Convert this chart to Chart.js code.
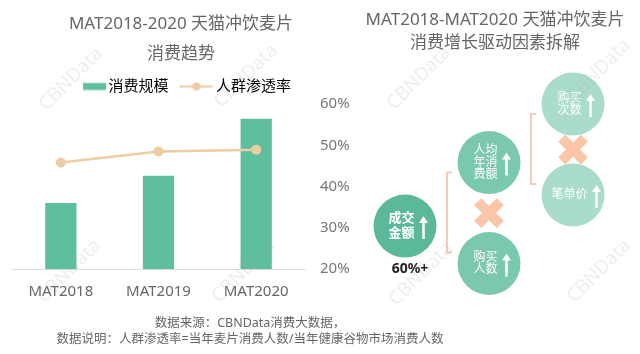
<!DOCTYPE html>
<html lang="zh-CN">
<head>
<meta charset="utf-8">
<title>天猫冲饮麦片消费趋势</title>
<script src="https://cdn.jsdelivr.net/npm/chart.js@4.4.1/dist/chart.umd.min.js"></script>
<style>
  html, body { margin: 0; padding: 0; background: #fff; }
  #wrap { position: relative; width: 640px; height: 354px; overflow: hidden; }
  #trendChart { position: absolute; left: 0; top: 0; }
  #driverChart { position: absolute; left: 350px; top: 0; }
  .note {
    position: absolute; left: 0; width: 500px; text-align: center;
    font: 12.5px 'Noto Sans', 'Noto Sans CJK SC', sans-serif;
    color: #666; line-height: 16px; white-space: nowrap;
  }
  .mark {
    position: absolute; width: 100px; margin-left: -50px; margin-top: -12px;
    text-align: center; font: 19px 'Noto Sans', sans-serif; line-height: 24px;
    color: rgba(170, 170, 170, 0.2); transform: rotate(-45deg); pointer-events: none;
  }
</style>
</head>
<body>
<div id="wrap">
  <canvas id="trendChart" width="360" height="315"></canvas>
  <canvas id="driverChart" width="290" height="310"></canvas>
  <div class="note" style="top:315px">数据来源：CBNData消费大数据，</div>
  <div class="note" style="top:331px">数据说明：人群渗透率=当年麦片消费人数/当年健康谷物市场消费人数</div>
</div>
<script>
// 数据：消费趋势
const years = ["MAT2018", "MAT2019", "MAT2020"];
const salesScale = [40, 56.5, 91]; // 消费规模（相对值，图中未标注单位）
const penetration = [45.8, 48.5, 48.9]; // 人群渗透率 %
const rateTicks = [20, 30, 40, 50, 60];

// 数据：增长驱动因素拆解
const factorNames = [["成交", "金额"], ["人均", "年消", "费额"], ["购买", "人数"], ["购买", "次数"], ["笔单价"]];
const factorSplits = [[0, 1, 2], [1, 3, 4]]; // 父因素 = 子因素 × 子因素
const factorGrowth = ["60%+", "", "", "", ""];

const FONT = "'Noto Sans', 'Noto Sans CJK SC', sans-serif";
const GREEN = "#5dbf9c";
const TAN = "#efcda3";

// 水印
const wrap = document.getElementById("wrap");
[[70, 78], [245, 75], [418, 77], [598, 70], [68, 270], [243, 270], [420, 273], [598, 270]].forEach(([x, y]) => {
  const el = document.createElement("div");
  el.className = "mark";
  el.textContent = "CBNData";
  el.style.left = x + "px";
  el.style.top = y + "px";
  wrap.appendChild(el);
});

// 图例图标
function makeIcon(draw) {
  const c = document.createElement("canvas");
  c.width = 40;
  c.height = 10;
  draw(c.getContext("2d"));
  return c;
}
const barIcon = makeIcon((g) => {
  g.fillStyle = GREEN;
  g.fillRect(17, 1.5, 23, 7);
});
const lineIcon = makeIcon((g) => {
  g.strokeStyle = TAN;
  g.lineWidth = 2;
  g.beginPath();
  g.moveTo(6, 5);
  g.lineTo(40, 5);
  g.stroke();
  g.fillStyle = TAN;
  g.beginPath();
  g.arc(23, 5, 4, 0, Math.PI * 2);
  g.fill();
});

// 左图：柱状 + 折线
new Chart(document.getElementById("trendChart"), {
  type: "bar",
  data: {
    labels: years,
    datasets: [
      {
        type: "bar",
        label: "消费规模",
        data: salesScale,
        backgroundColor: GREEN,
        yAxisID: "y",
        order: 2,
        barPercentage: 0.32,
        categoryPercentage: 1,
      },
      {
        type: "line",
        label: "人群渗透率",
        data: penetration,
        borderColor: TAN,
        borderWidth: 2.5,
        pointRadius: 5,
        pointBackgroundColor: TAN,
        pointBorderWidth: 0,
        yAxisID: "y2",
        order: 1,
      },
    ],
  },
  options: {
    responsive: false,
    animation: false,
    layout: { padding: { left: 12, right: 10, top: 0, bottom: 0 }, autoPadding: false },
    plugins: {
      title: {
        display: true,
        text: ["MAT2018-2020 天猫冲饮麦片", "消费趋势"],
        color: "#666",
        font: { family: FONT, size: 17, weight: "normal", lineHeight: 30 / 17 },
        padding: { top: 9, bottom: 0 },
      },
      legend: {
        position: "top",
        labels: {
          usePointStyle: true,
          pointStyleWidth: 30,
          boxHeight: 8,
          padding: 10,
          color: "#666",
          font: { family: FONT, size: 15 },
          generateLabels: () => [
            { text: "消费规模", pointStyle: barIcon, fillStyle: GREEN, strokeStyle: GREEN, lineWidth: 0, datasetIndex: 0, hidden: false },
            { text: "人群渗透率", pointStyle: lineIcon, fillStyle: TAN, strokeStyle: TAN, lineWidth: 0, datasetIndex: 1, hidden: false },
          ],
        },
      },
      tooltip: { enabled: false },
    },
    scales: {
      x: {
        grid: { display: false, drawTicks: false },
        border: { display: true, color: "#dcdcdc", width: 1 },
        ticks: { color: "#666", font: { family: FONT, size: 15 }, padding: 14 },
      },
      y: { display: false, min: 0, max: 100 },
      y2: {
        position: "right",
        min: rateTicks[0],
        max: rateTicks[rateTicks.length - 1],
        grid: { display: false, drawTicks: false },
        border: { display: false },
        afterBuildTicks: (axis) => {
          axis.ticks = rateTicks.map((v) => ({ value: v }));
        },
        afterFit: (axis) => {
          axis.width = 45; // 刻度文字宽 30 + 间距 15
        },
        ticks: {
          color: "#777",
          padding: 15,
          font: { family: FONT, size: 15 },
          callback: (v) => v + "%",
        },
      },
    },
  },
});

// 右图：因素拆解（树状布局，列 = 层级）
const COL_OFFSET = 0.655;
const RISE = 1.3; // 子因素中点相对父因素上移
const SPREAD = [5.05, 4.55]; // 每层两个子因素的上下间距
const factorX = [0];
const factorY = [0];
const factorDepth = [0];
factorSplits.forEach(([p, a, b]) => {
  const d = factorDepth[p] + 1;
  const mid = factorY[p] + RISE;
  factorDepth[a] = factorDepth[b] = d;
  factorX[a] = factorX[b] = d;
  factorY[a] = mid + SPREAD[d - 1];
  factorY[b] = mid - SPREAD[d - 1];
});
const nodeColors = ["#5cb997", "#7bc9ad", "#a9dcca"];

const nodePoints = factorNames.map((_, i) => ({ x: factorX[i], y: factorY[i] }));
const crossPoints = factorSplits.map(([p, a, b]) => ({ x: factorX[a], y: (factorY[a] + factorY[b]) / 2 }));

// 画括号、文字、箭头
const factorLabels = {
  id: "factorLabels",
  beforeDatasetsDraw(chart) {
    const { ctx, scales } = chart;
    ctx.save();
    ctx.strokeStyle = "#f5cdb5";
    ctx.lineWidth = 2;
    factorSplits.forEach(([p, a, b]) => {
      const x = (scales.x.getPixelForValue(factorX[p]) + scales.x.getPixelForValue(factorX[a])) / 2;
      const y1 = scales.y.getPixelForValue(factorY[a]) + 10;
      const y2 = scales.y.getPixelForValue(factorY[b]) - 11;
      ctx.beginPath();
      ctx.moveTo(x + 5, y1);
      ctx.lineTo(x, y1);
      ctx.lineTo(x, y2);
      ctx.lineTo(x + 5, y2);
      ctx.stroke();
    });
    ctx.restore();
  },
  afterDatasetsDraw(chart) {
    const { ctx, scales } = chart;
    ctx.save();
    factorNames.forEach((lines, i) => {
      const px = scales.x.getPixelForValue(factorX[i]);
      const py = scales.y.getPixelForValue(factorY[i]);
      const root = factorDepth[i] === 0;
      const size = root ? 13 : 12;
      const lh = root ? 15 : 12;
      ctx.font = (root ? "bold " : "") + size + "px " + FONT;
      ctx.fillStyle = "#fff";
      ctx.textAlign = "center";
      ctx.textBaseline = "middle";
      const tw = Math.max(...lines.map((t) => ctx.measureText(t).width));
      const gw = tw + 5 + 8;
      const left = px + 3 - gw / 2;
      const tx = left + tw / 2;
      const top = py - ((lines.length - 1) * lh) / 2;
      lines.forEach((t, k) => ctx.fillText(t, tx, top + k * lh));
      // 向上箭头
      const ax = left + tw + 9;
      ctx.strokeStyle = "#fff";
      ctx.lineWidth = 2.5;
      ctx.beginPath();
      ctx.moveTo(ax, py - 4);
      ctx.lineTo(ax, py + 13);
      ctx.stroke();
      ctx.beginPath();
      ctx.moveTo(ax, py - 10);
      ctx.lineTo(ax + 4.5, py - 3);
      ctx.lineTo(ax - 4.5, py - 3);
      ctx.closePath();
      ctx.fill();
      if (factorGrowth[i]) {
        ctx.fillStyle = "#222";
        ctx.font = "bold 14px " + FONT;
        ctx.fillText(factorGrowth[i], px + 5, py + 43);
      }
    });
    ctx.restore();
  },
};

new Chart(document.getElementById("driverChart"), {
  type: "scatter",
  data: {
    datasets: [
      {
        data: crossPoints,
        pointStyle: "crossRot",
        pointRadius: 16,
        pointBorderWidth: 10,
        pointBorderColor: "#fbc5a8",
        pointBackgroundColor: "#fbc5a8",
      },
      {
        data: nodePoints,
        pointRadius: 31.5,
        pointBorderWidth: 0,
        pointBackgroundColor: factorDepth.map((d) => nodeColors[d]),
      },
    ],
  },
  options: {
    responsive: false,
    animation: false,
    events: [],
    layout: { padding: 0, autoPadding: false },
    plugins: {
      title: {
        display: true,
        text: ["MAT2018-MAT2020 天猫冲饮麦片", "消费增长驱动因素拆解"],
        color: "#666",
        font: { family: FONT, size: 17, weight: "normal", lineHeight: 23 / 17 },
        padding: { top: 8.5, bottom: 0 },
      },
      legend: { display: false },
      tooltip: { enabled: false },
    },
    scales: {
      x: { display: false, min: -COL_OFFSET, max: -COL_OFFSET + 290 / 84 },
      y: { display: false, min: -8.4, max: 17.16 },
    },
  },
  plugins: [factorLabels],
});
</script>
</body>
</html>
